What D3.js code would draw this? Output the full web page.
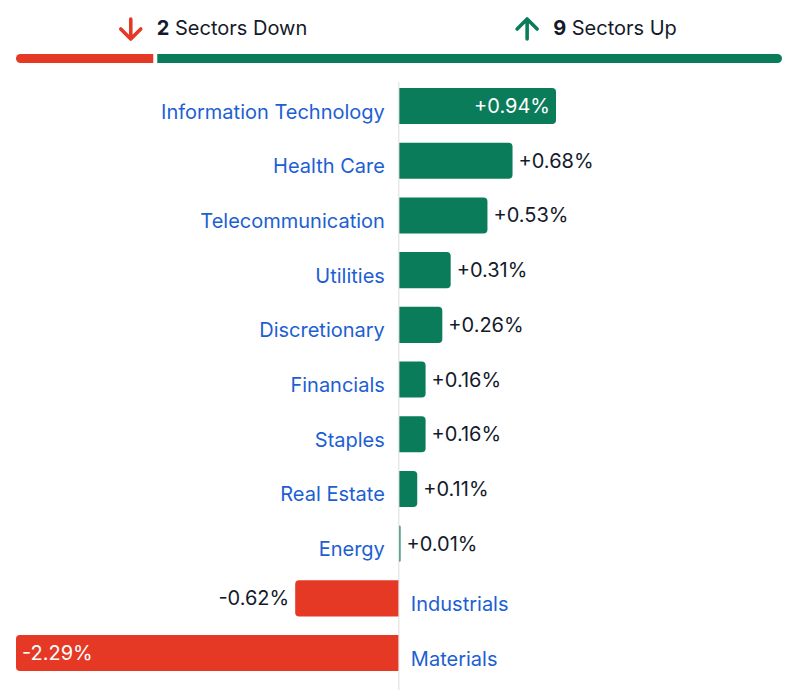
<!DOCTYPE html>
<html lang="en">
<head>
  <meta charset="UTF-8">
  <title>Sectors</title>
  <script src="https://d3js.org/d3.v7.min.js"></script>
  <style>
    body { margin: 0; padding: 0; background: #fff; }
    svg { display: block; font-family: Inter, 'Noto Sans', sans-serif; }
  </style>
</head>
<body>
  <svg id="chart" width="804" height="694"></svg>
  <script>
    var sectors = ['Information Technology', 'Health Care', 'Telecommunication', 'Utilities',
      'Discretionary', 'Financials', 'Staples', 'Real Estate', 'Energy', 'Industrials', 'Materials'];
    var changes = [0.94, 0.68, 0.53, 0.31, 0.26, 0.16, 0.16, 0.11, 0.01, -0.62, -2.29];

    var green = '#0b7c5a', red = '#e53825', blue = '#1d5fd3', ink = '#141a2b';
    var svg = d3.select('#chart');

    var data = sectors.map(function(s, i) { return { name: s, value: changes[i] }; });
    var nDown = data.filter(function(d) { return d.value < 0; }).length;
    var nUp = data.length - nDown;

    // header count bar
    var cx = d3.scaleLinear().domain([0, data.length]).range([16, 782]);
    var h = 9, hy = 54, gap = 2;
    function roundSide(x0, x1, y, hh, r, side) {
      // side: 'left' or 'right' rounded
      var w = x1 - x0;
      r = Math.min(r, w, hh / 2);
      if (side === 'right') {
        return 'M' + x0 + ',' + y + 'H' + (x1 - r) + 'A' + r + ',' + r + ' 0 0 1 ' + x1 + ',' + (y + r) +
          'V' + (y + hh - r) + 'A' + r + ',' + r + ' 0 0 1 ' + (x1 - r) + ',' + (y + hh) + 'H' + x0 + 'Z';
      }
      return 'M' + x1 + ',' + y + 'H' + (x0 + r) + 'A' + r + ',' + r + ' 0 0 0 ' + x0 + ',' + (y + r) +
        'V' + (y + hh - r) + 'A' + r + ',' + r + ' 0 0 0 ' + (x0 + r) + ',' + (y + hh) + 'H' + x1 + 'Z';
    }
    svg.append('path').attr('d', roundSide(cx(0), cx(nDown) - gap, hy, h, 4.5, 'left')).attr('fill', red);
    svg.append('path').attr('d', roundSide(cx(nDown) + gap, cx(data.length), hy, h, 4.5, 'right')).attr('fill', green);

    // header labels
    function header(xc, count, label, color, up) {
      var g = svg.append('g');
      var t = g.append('text').attr('y', 35).attr('font-size', 20).attr('fill', ink);
      t.append('tspan').attr('font-weight', 700).text(count);
      t.append('tspan').text(' ' + label);
      var tw = t.node().getComputedTextLength();
      var aw = 38;
      var x0 = xc - (aw + tw) / 2;
      t.attr('x', x0 + aw);
      var ax = x0 + 12;
      var a = g.append('g').attr('stroke', color).attr('stroke-width', 3.6).attr('fill', 'none')
        .attr('stroke-linecap', 'round').attr('stroke-linejoin', 'round');
      if (up) {
        a.append('path').attr('d', 'M' + ax + ',39V19M' + (ax - 10) + ',29L' + ax + ',19L' + (ax + 10) + ',29');
      } else {
        a.append('path').attr('d', 'M' + ax + ',19V39M' + (ax - 10) + ',29L' + ax + ',39L' + (ax + 10) + ',29');
      }
    }
    header(213, nDown, 'Sectors Down', red, false);
    header(596, nUp, 'Sectors Up', green, true);

    // bars
    var x = d3.scaleLinear().domain([d3.min(changes), d3.max(changes)]).range([16, 556]);
    var y = d3.scaleBand().domain(sectors).range([78.7, 680.4]).paddingInner(0.34).paddingOuter(0.17);
    var x0 = x(0);

    svg.append('line').attr('x1', x0).attr('x2', x0).attr('y1', 82).attr('y2', 690)
      .attr('stroke', '#dcdcdc').attr('stroke-width', 1);

    var row = svg.selectAll('g.row').data(data).enter().append('g').attr('class', 'row');

    row.append('path')
      .attr('fill', function(d) { return d.value >= 0 ? green : red; })
      .attr('d', function(d) {
        var a = Math.min(x(d.value), x0), b = Math.max(x(d.value), x0);
        if (d.value >= 0) return roundSide(x0 + 0.5, b, y(d.name), y.bandwidth(), 4, 'right');
        return roundSide(a, x0 - 0.5, y(d.name), y.bandwidth(), 4, 'left');
      });

    row.append('text')
      .attr('x', function(d) { return d.value >= 0 ? x0 - 14 : x0 + 12; })
      .attr('y', function(d) { return y(d.name) + y.bandwidth() / 2 + 12.5; })
      .attr('text-anchor', function(d) { return d.value >= 0 ? 'end' : 'start'; })
      .attr('font-size', 20).attr('fill', blue)
      .text(function(d) { return d.name; });

    function fmt(v) { return (v >= 0 ? '+' : '') + v.toFixed(2) + '%'; }
    row.append('text')
      .attr('y', function(d) { return y(d.name) + y.bandwidth() / 2 + 7; })
      .attr('font-size', 20)
      .each(function(d) {
        var inside = Math.abs(x(d.value) - x0) > 120;
        var t = d3.select(this).text(fmt(d.value));
        if (d.value >= 0) {
          if (inside) t.attr('x', x(d.value) - 6).attr('text-anchor', 'end').attr('fill', '#fff');
          else t.attr('x', x(d.value) + 6).attr('text-anchor', 'start').attr('fill', ink);
        } else {
          if (inside) t.attr('x', x(d.value) + 6).attr('text-anchor', 'start').attr('fill', '#fff');
          else t.attr('x', x(d.value) - 6).attr('text-anchor', 'end').attr('fill', ink);
        }
      });
  </script>
</body>
</html>
